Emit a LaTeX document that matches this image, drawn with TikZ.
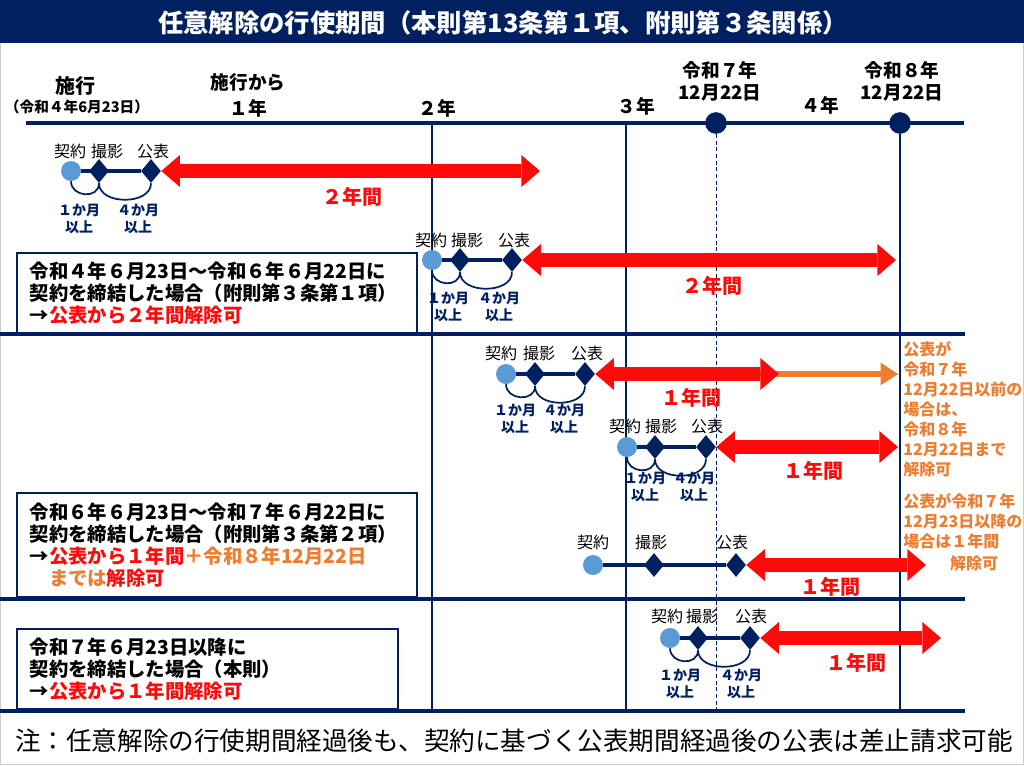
\documentclass[tikz,border=0pt]{standalone}
\usepackage{fontspec}
\setmainfont{Noto Sans CJK JP}
\usetikzlibrary{shapes.geometric,arrows.meta,backgrounds}
\definecolor{navy}{RGB}{0,32,96}
\definecolor{lblue}{RGB}{91,155,213}
\definecolor{orng}{RGB}{237,125,49}
\definecolor{rd}{RGB}{255,10,10}
\begin{document}
\begin{tikzpicture}[x=0.75pt,y=-0.75pt,
  kc/.style={circle,fill=lblue,minimum size=15pt,inner sep=0},
  kd/.style={diamond,fill=navy,minimum width=15pt,minimum height=18pt,inner sep=0},
  mc/.style={circle,fill=navy,minimum size=16pt,inner sep=0},
  lab/.style={font=\fontsize{12}{14}\selectfont,inner sep=0},
  dur/.style={font=\fontsize{10.5}{13}\selectfont\bfseries,text=navy,align=center,inner sep=0},
  yrs/.style={font=\fontsize{15}{18}\selectfont\bfseries,text=rd,inner sep=0},
  axl/.style={font=\fontsize{14}{17}\selectfont\bfseries,inner sep=0},
  oj/.style={font=\fontsize{12}{15}\selectfont\bfseries,text=orng,align=left,inner sep=0,anchor=north west},
  cbox/.style={draw=navy,line width=1.5pt,anchor=north west,align=left,font=\fontsize{14.5}{16.5}\selectfont\bfseries,inner xsep=9.5pt,inner ysep=0},
  tline/.style={navy,line width=3.4pt},
  karc/.style={navy,line width=1.3pt},
  bigarr/.style={rd,line width=11pt,{Triangle[length=14pt,width=24pt,line width=0pt]}-{Triangle[length=14pt,width=24pt,line width=0pt]}},
  orarr/.style={orng,line width=4.5pt,-{Triangle[length=13pt,width=17pt,line width=0pt]}},
  sepl/.style={navy,line width=3pt},
  vl/.style={navy,line width=1.5pt},
  dl/.style={navy,line width=0.75pt,dash pattern=on 3pt off 2pt},
]
\useasboundingbox (0,0) rectangle (1024,765);
\draw[black!20,line width=0.75pt] (0.5,0.5) rectangle (1023.5,764.5);
% title
\fill[navy] (0,0) rectangle (1024,43);
\node[font=\fontsize{19}{24}\selectfont\bfseries,text=white,inner sep=0] (title) at (503,23) {任意解除の行使期間（本則第13条第１項、附則第３条関係）};

% axis
\coordinate (ax0) at (26,123);
\coordinate (ax1) at (964,123);
\coordinate (v2t) at (432,123);
\coordinate (v2b) at (432,711);
\coordinate (v3t) at (626,123);
\coordinate (v3b) at (626,711);
\coordinate (v7b) at (716,711);
\coordinate (v8b) at (900,711);
\node[mc] (m7) at (716,123) {};
\node[mc] (m8) at (900,123) {};
\draw[vl] (v2t) -- (v2b);
\draw[vl] (v3t) -- (v3b);
\draw[dl] (m7) -- (v7b);
\draw[vl] (m8) -- (v8b);
\draw[sepl] (ax0) -- (ax1);
\node[mc] at (m7) {};
\node[mc] at (m8) {};

% separators
\coordinate (s1a) at (0,334); \coordinate (s1b) at (965,334);
\coordinate (s2a) at (0,599); \coordinate (s2b) at (965,599);
\coordinate (s3a) at (0,711); \coordinate (s3b) at (965,711);
\draw[sepl] (s1a) -- (s1b);
\draw[sepl] (s2a) -- (s2b);
\draw[sepl] (s3a) -- (s3b);

% axis labels
\node[font=\fontsize{15}{18}\selectfont\bfseries,inner sep=0] (t0) at (75,86) {施行};
\node[font=\fontsize{11}{13}\selectfont\bfseries,inner sep=0] (t0d) at (77,107) {（令和４年6月23日）};
\node[axl] (t1a) at (248,82) {施行から};
\node[axl] (t1) at (248,108) {１年};
\node[axl] (t2) at (437,108) {２年};
\node[axl] (t3) at (636,106) {３年};
\node[axl] (t7a) at (720,70) {令和７年};
\node[axl] (t7b) at (720,93) {12月22日};
\node[axl] (t4) at (820,105) {４年};
\node[axl] (t8a) at (902,70) {令和８年};
\node[axl] (t8b) at (902,93) {12月22日};

% boxes
\node[cbox,text width=281pt,minimum height=60pt] (box1) at (16,252) {令和４年６月23日～令和６年６月22日に\\契約を締結した場合（附則第３条第１項）\\→\textcolor{rd}{公表から２年間解除可}};
\node[cbox,text width=281pt,minimum height=78pt] (box2) at (16,492) {令和６年６月23日～令和７年６月22日に\\契約を締結した場合（附則第３条第２項）\\→\textcolor{rd}{公表から１年間}\textcolor{orng}{＋令和８年12月22日}\\\hspace*{1em}\textcolor{orng}{までは}\textcolor{rd}{解除可}};
\node[cbox,text width=267pt,minimum height=60pt] (box3) at (16,628) {令和７年６月23日以降に\\契約を締結した場合（本則）\\→\textcolor{rd}{公表から１年間解除可}};

% orange notes
\node[oj] (o1) at (903,341) {公表が\\令和７年\\12月22日以前の\\場合は、\\令和８年\\12月22日まで\\解除可};
\node[oj] (o2) at (903,493) {公表が令和７年\\12月23日以降の\\場合は１年間};
\node[font=\fontsize{12}{15}\selectfont\bfseries,text=orng,inner sep=0] (o3) at (974,563) {解除可};

% row 1
\node[kc] (a1) at (71,171) {};
\node[kd] (a2) at (99,171) {};
\node[kd] (a3) at (151,171) {};
\coordinate (a4) at (540,171);
\draw[bigarr] (a3.east) -- (a4);
\node[lab] (a1l) at (70,151) {契約};
\node[lab] (a2l) at (107,151) {撮影};
\node[lab] (a3l) at (153,151) {公表};
\node[dur] (a1d) at (79,219) {１か月\\以上};
\node[dur] (a2d) at (138,219) {４か月\\以上};
\node[yrs] (a5) at (352,197) {２年間};

% row 2
\node[kc] (b1) at (432,260) {};
\node[kd] (b2) at (460,260) {};
\node[kd] (b3) at (512,260) {};
\coordinate (b4) at (896,260);
\draw[bigarr] (b3.east) -- (b4);
\node[lab] (b1l) at (431,240) {契約};
\node[lab] (b2l) at (467,240) {撮影};
\node[lab] (b3l) at (514,240) {公表};
\node[dur] (b1d) at (448,307) {１か月\\以上};
\node[dur] (b2d) at (499,307) {４か月\\以上};
\node[yrs] (b5) at (712,286) {２年間};

% row 3
\node[kc] (c1) at (506,374) {};
\node[kd] (c2) at (535,374) {};
\node[kd] (c3) at (585,374) {};
\coordinate (c6) at (755,374);
\coordinate (c7) at (898,374);
\draw[orarr] (c6) -- (c7);
\coordinate (c4) at (779,374);
\draw[bigarr] (c3.east) -- (c4);
\node[lab] (c1l) at (501,353) {契約};
\node[lab] (c2l) at (539,353) {撮影};
\node[lab] (c3l) at (587,353) {公表};
\node[dur] (c1d) at (515,419) {１か月\\以上};
\node[dur] (c2d) at (564,419) {４か月\\以上};
\node[yrs] (c5) at (691,398) {１年間};

% row 4
\node[kc] (d1) at (627,447) {};
\node[kd] (d2) at (655,447) {};
\node[kd] (d3) at (706,447) {};
\coordinate (d4) at (898,447);
\draw[bigarr] (d3.east) -- (d4);
\node[lab] (d1l) at (625,426) {契約};
\node[lab] (d2l) at (661,426) {撮影};
\node[lab] (d3l) at (707,426) {公表};
\node[dur] (d1d) at (645,487) {１か月\\以上};
\node[dur] (d2d) at (694,487) {４か月\\以上};
\node[yrs] (d5) at (813,471) {１年間};

% row 5
\node[kc] (e1) at (593,565) {};
\node[kd] (e2) at (654,565) {};
\node[kd] (e3) at (736,565) {};
\coordinate (e4) at (926,565);
\draw[bigarr] (e3.east) -- (e4);
\node[lab] (e1l) at (593,542) {契約};
\node[lab] (e2l) at (651,542) {撮影};
\node[lab] (e3l) at (732,542) {公表};
\node[yrs] (e5) at (830,587) {１年間};

% row 6
\node[kc] (f1) at (670,638) {};
\node[kd] (f2) at (698,638) {};
\node[kd] (f3) at (750,638) {};
\coordinate (f4) at (941,638);
\draw[bigarr] (f3.east) -- (f4);
\node[lab] (f1l) at (667,616) {契約};
\node[lab] (f2l) at (702,616) {撮影};
\node[lab] (f3l) at (751,616) {公表};
\node[dur] (f1d) at (680,684) {１か月\\以上};
\node[dur] (f2d) at (741,684) {４か月\\以上};
\node[yrs] (f5) at (856,663) {１年間};

% note
\node[font=\fontsize{19.2}{22}\selectfont,inner sep=0] (note) at (514,741) {注：任意解除の行使期間経過後も、契約に基づく公表期間経過後の公表は差止請求可能};

\begin{scope}[on background layer]
\draw[tline] (a1) -- (a3);
\draw[karc] (a1.south) .. controls +(0,16) and +(0,16) .. (a2.south);
\draw[karc] (a2.south) .. controls +(0,22) and +(0,22) .. (a3.south);
\draw[tline] (b1) -- (b3);
\draw[karc] (b1.south) .. controls +(0,16) and +(0,16) .. (b2.south);
\draw[karc] (b2.south) .. controls +(0,22) and +(0,22) .. (b3.south);
\draw[tline] (c1) -- (c3);
\draw[karc] (c1.south) .. controls +(0,16) and +(0,16) .. (c2.south);
\draw[karc] (c2.south) .. controls +(0,22) and +(0,22) .. (c3.south);
\draw[tline] (d1) -- (d3);
\draw[karc] (d1.south) .. controls +(0,16) and +(0,16) .. (d2.south);
\draw[karc] (d2.south) .. controls +(0,22) and +(0,22) .. (d3.south);
\draw[navy,line width=2.8pt] (e1) -- (e3);
\draw[tline] (f1) -- (f3);
\draw[karc] (f1.south) .. controls +(0,16) and +(0,16) .. (f2.south);
\draw[karc] (f2.south) .. controls +(0,22) and +(0,22) .. (f3.south);
\end{scope}
\end{tikzpicture}
\end{document}
